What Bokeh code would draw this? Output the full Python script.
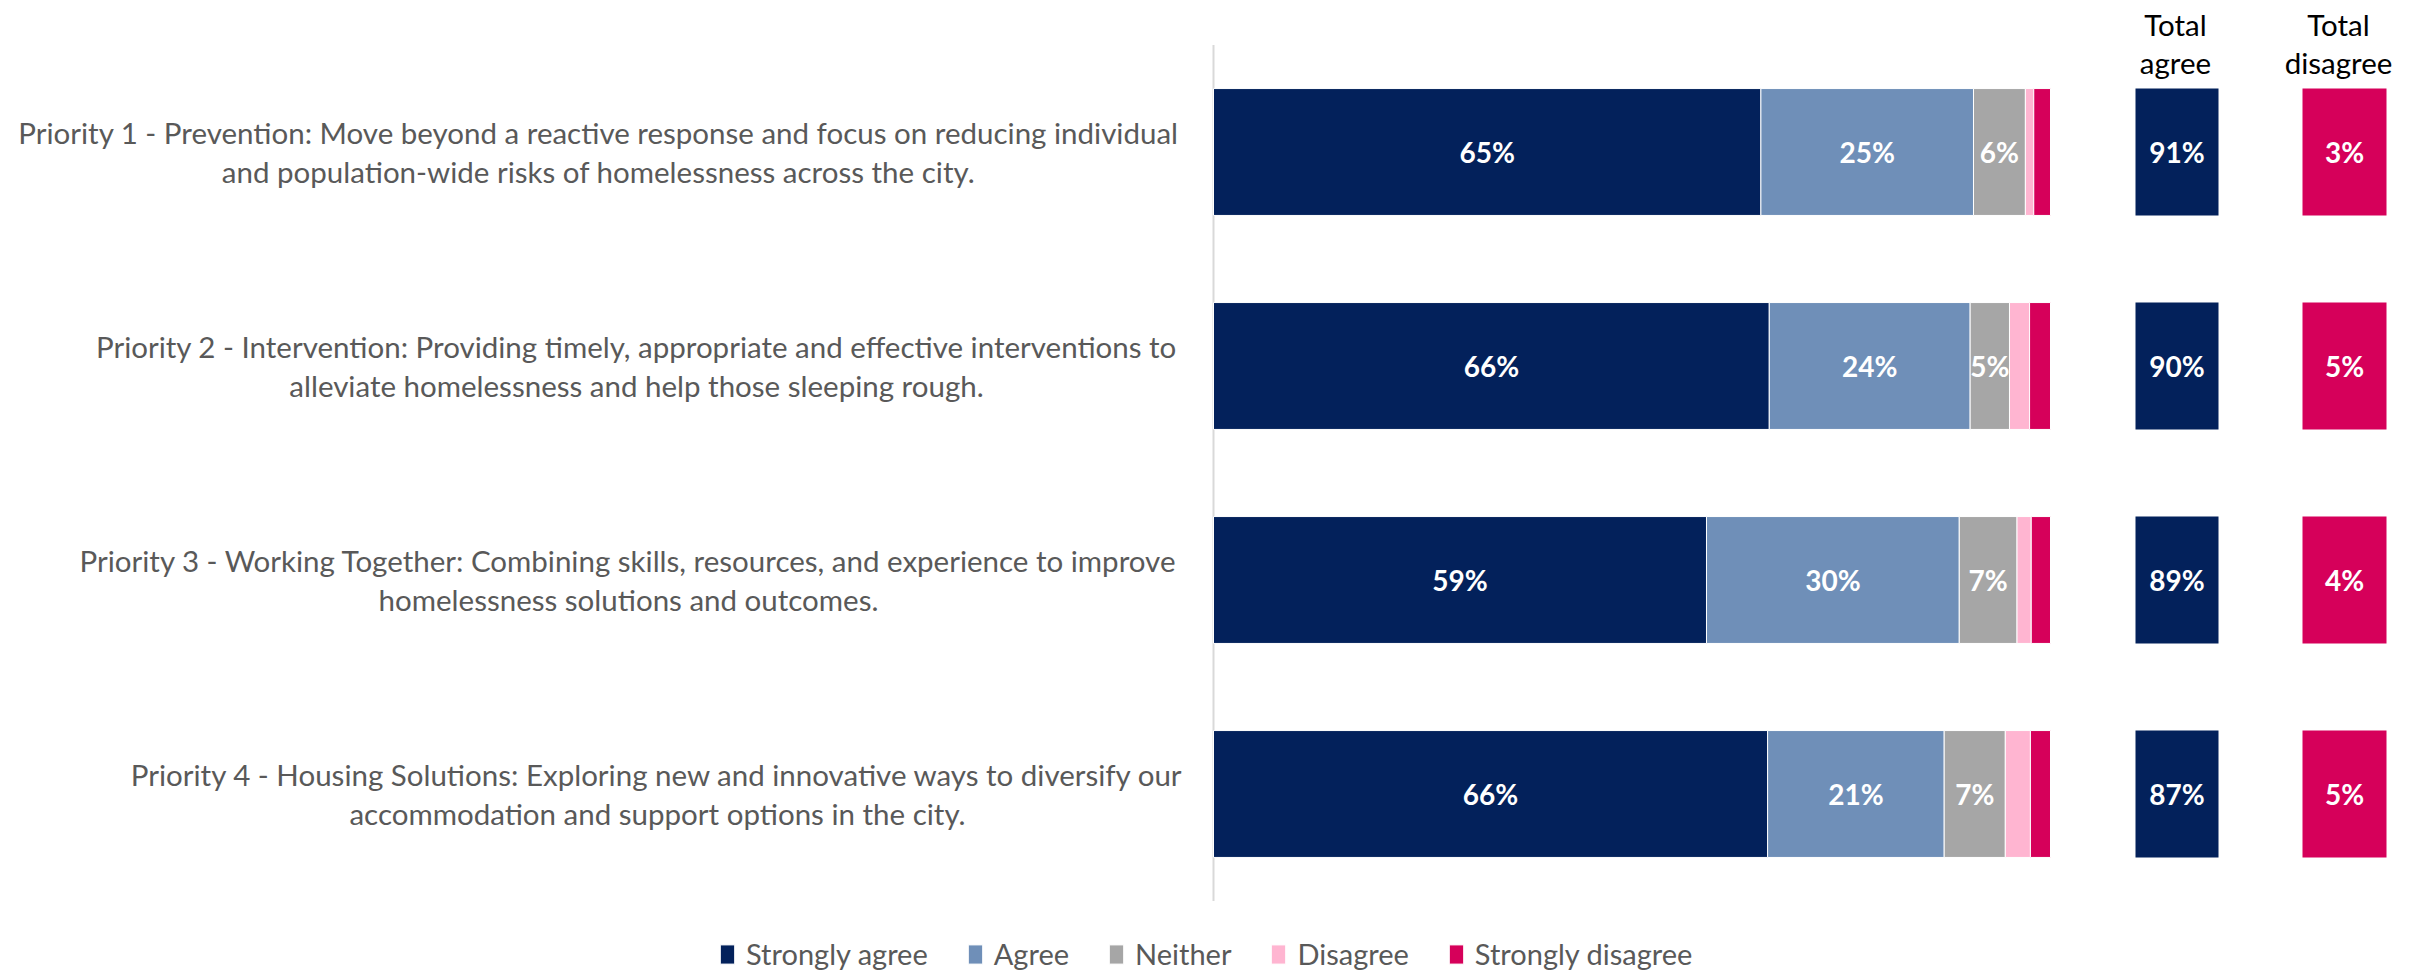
from bokeh.plotting import figure
from bokeh.models import ColumnDataSource, Range1d
from bokeh.core.properties import value
from bokeh.embed import file_html
from bokeh.resources import INLINE

# ---------------- data ----------------
priorities = [
    "Priority 1 - Prevention: Move beyond a reactive response and focus on reducing individual\nand population-wide risks of homelessness across the city.",
    "Priority 2 - Intervention: Providing timely, appropriate and effective interventions to\nalleviate homelessness and help those sleeping rough.",
    "Priority 3 - Working Together: Combining skills, resources, and experience to improve\nhomelessness solutions and outcomes.",
    "Priority 4 - Housing Solutions: Exploring new and innovative ways to diversify our\naccommodation and support options in the city.",
]
series = ["Strongly agree", "Agree", "Neither", "Disagree", "Strongly disagree"]
strongly_agree = [65.4, 66.4, 58.9, 66.2]
agree = [25.4, 24.0, 30.2, 21.1]
neither = [6.2, 4.7, 6.9, 7.3]
disagree = [1.0, 2.4, 1.7, 3.0]
strongly_disagree = [2.0, 2.5, 2.3, 2.4]
total_agree = [91, 90, 89, 87]
total_disagree = [3, 5, 4, 5]
colors = ["#03215B", "#6F8FB8", "#A6A6A6", "#FFB5D1", "#D6005A"]

# ---------------- layout ----------------
W, H = 2420, 973
X0_PX = 1213.0          # pixel of 0 %
PX_PER_PCT = 8.37       # pixels per percentage point
ROW0_PX = 151.5         # pixel centre of first row
ROW_PX = 214.0          # pixels between rows
FONT = "Lato"

def xd(px):
    return (px - X0_PX) / PX_PER_PCT

def yd(px):
    return (px - ROW0_PX) / ROW_PX

ypos = list(range(len(priorities)))
bar_h = 0.593

p = figure(width=W, height=H, output_backend="svg", toolbar_location=None,
           x_range=Range1d(xd(0), xd(W)), y_range=Range1d(yd(H), yd(0)),
           min_border=0, x_axis_type=None, y_axis_type=None)
p.outline_line_color = None
p.background_fill_color = "white"
p.border_fill_color = "white"

# vertical axis line
p.segment(x0=[0], y0=[ypos[0] - 0.5], x1=[0], y1=[ypos[-1] + 0.5],
          line_color="#D9D9D9", line_width=2)

vals = [strongly_agree, agree, neither, disagree, strongly_disagree]
src = ColumnDataSource(dict(y=ypos, **{s: v for s, v in zip(series, vals)}))
p.hbar_stack(series, y="y", height=bar_h, fill_color=colors, line_color="white",
             line_width=1, source=src, legend_label=series)

# segment labels
lx, ly, lt = [], [], []
for i in ypos:
    left = 0.0
    for k in range(3):
        v = vals[k][i]
        if v >= 4:
            lx.append(left + v / 2)
            ly.append(i)
            lt.append(f"{round(v)}%")
        left += v
p.text(x=lx, y=ly, text=lt, text_color="white", text_font=value(FONT),
       text_font_style="bold", text_font_size="28px",
       text_align="center", text_baseline="middle")

# total boxes
ta_l, ta_r = xd(2135), xd(2218)
td_l, td_r = xd(2302), xd(2386)
p.hbar(y=ypos, left=ta_l, right=ta_r, height=bar_h, fill_color=colors[0], line_color=None)
p.hbar(y=ypos, left=td_l, right=td_r, height=bar_h, fill_color=colors[4], line_color=None)
p.text(x=[(ta_l + ta_r) / 2] * len(ypos), y=ypos, text=[f"{v}%" for v in total_agree],
       text_color="white", text_font=value(FONT), text_font_style="bold",
       text_font_size="28px", text_align="center", text_baseline="middle")
p.text(x=[(td_l + td_r) / 2] * len(ypos), y=ypos, text=[f"{v}%" for v in total_disagree],
       text_color="white", text_font=value(FONT), text_font_style="bold",
       text_font_size="28px", text_align="center", text_baseline="middle")

# headers
p.text(x=[xd(2175), xd(2338)], y=[yd(43)] * 2, text=["Total\nagree", "Total\ndisagree"],
       text_color="#000000", text_font=value(FONT), text_font_size="29.5px",
       text_align="center", text_baseline="middle", text_line_height=1.1)

# category labels (each centred on its own text block)
label_centres_px = [598, 636, 628, 657]
p.text(x=[xd(c) for c in label_centres_px], y=ypos, text=priorities,
       text_color="#595959", text_font=value(FONT), text_font_size="29.5px",
       text_align="center", text_baseline="middle", text_line_height=1.1)

# legend
lg = p.legend[0]
lg.orientation = "horizontal"
lg.location = (718, 2)
lg.padding = 0
lg.margin = 0
lg.spacing = 38
lg.label_standoff = 10
lg.glyph_width = 18
lg.glyph_height = 24
lg.border_line_color = None
lg.background_fill_alpha = 0
lg.label_text_color = "#595959"
lg.label_text_font = FONT
lg.label_text_font_size = "29px"

open("out.html", "w").write(file_html(p, INLINE))
